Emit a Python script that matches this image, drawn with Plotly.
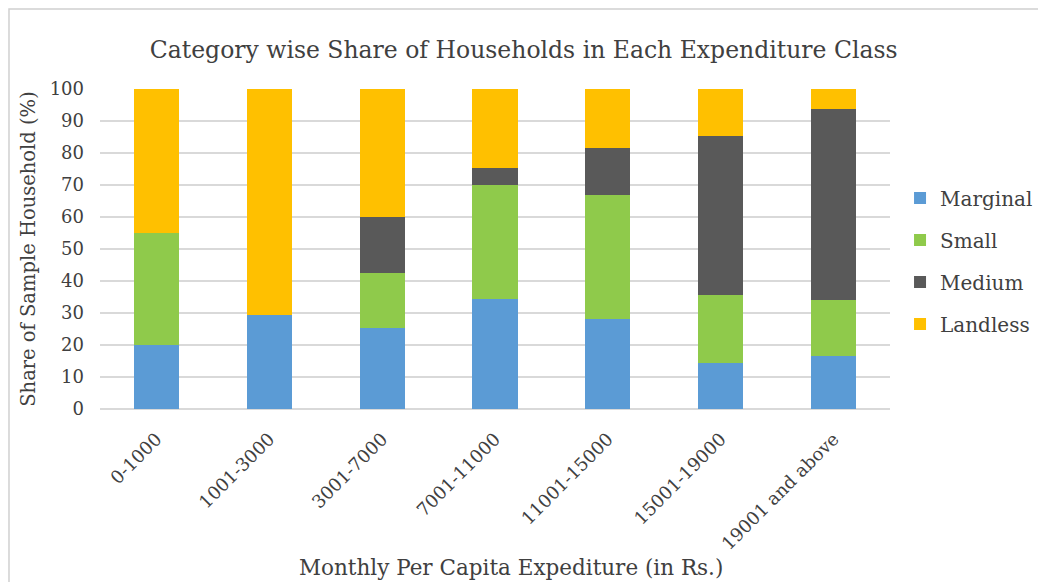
import plotly.graph_objects as go

categories = ["0-1000", "1001-3000", "3001-7000", "7001-11000", "11001-15000", "15001-19000", "19001 and above"]
marginal = [20.0, 29.5, 25.3, 34.3, 28.0, 14.5, 16.6]
small = [35.0, 0.0, 17.2, 35.7, 38.8, 21.1, 17.4]
medium = [0.0, 0.0, 17.5, 5.3, 14.8, 49.7, 59.7]
landless = [45.0, 70.5, 40.0, 24.7, 18.4, 14.7, 6.3]

series = [
    ("Marginal", marginal, "#5b9bd5"),
    ("Small", small, "#8fca4b"),
    ("Medium", medium, "#595959"),
    ("Landless", landless, "#ffc000"),
]

font_family = "DejaVu Serif, Liberation Serif, serif"
text_color = "#404040"

fig = go.Figure()
for name, vals, color in series:
    fig.add_trace(go.Bar(
        x=categories, y=vals, name=name, marker_color=color,
        marker_line_width=0, legendgroup=name,
    ))

fig.update_layout(
    width=1046, height=582,
    barmode="stack", bargap=0.6,
    paper_bgcolor="white", plot_bgcolor="white",
    margin=dict(l=92, r=164, t=81, b=181),
    font=dict(family=font_family, color=text_color, size=18),
    title=dict(
        text="Category wise Share of Households in Each Expenditure Class",
        x=0.493, xanchor="center", y=0.928, yanchor="middle",
        font=dict(family=font_family, size=23.5, color=text_color),
    ),
    legend=dict(
        x=1.0127, xanchor="left", y=0.4625, yanchor="middle",
        traceorder="grouped", tracegroupgap=13,
        font=dict(family=font_family, size=20, color=text_color),
        itemwidth=30,
    ),
    xaxis=dict(
        tickangle=-45, showgrid=False, showline=False, ticks="",
        ticklabelstandoff=15,
        tickfont=dict(size=18, color=text_color),
    ),
    yaxis=dict(
        range=[0, 100], dtick=10, showgrid=True, gridcolor="#d9d9d9", gridwidth=1.5,
        zeroline=True, zerolinecolor="#d9d9d9", zerolinewidth=1.5,
        tickfont=dict(size=18, color=text_color), ticks="", ticklen=0,
        ticklabelstandoff=15,
        title=dict(text="Share of Sample Household (%)", standoff=8,
                   font=dict(size=19.5, color=text_color)),
    ),
    annotations=[dict(
        text="Monthly Per Capita Expediture (in Rs.)",
        xref="paper", yref="paper", x=0.52, y=-0.494,
        xanchor="center", yanchor="middle", showarrow=False,
        font=dict(family=font_family, size=21.5, color=text_color),
    )],
    shapes=[dict(type="rect", xref="paper", yref="paper",
                 x0=-0.1152, x1=1.3, y0=-0.7, y1=1.25,
                 line=dict(color="#d0d0d0", width=1.5))],
)

fig.write_html("out.html")
